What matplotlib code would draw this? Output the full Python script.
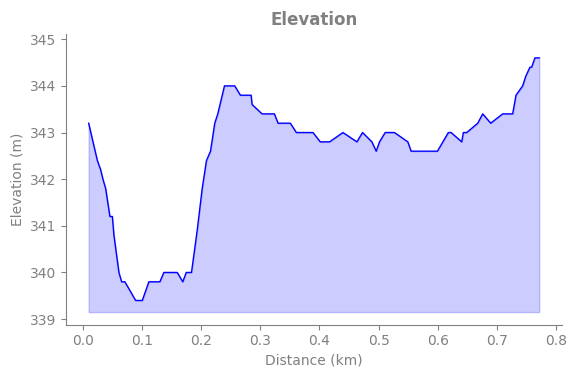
import matplotlib
matplotlib.use('Agg')
import matplotlib.pyplot as plt

# Data
distance_km = [0.0101, 0.0174, 0.0248, 0.0304, 0.0342, 0.0388, 0.0460, 0.0501, 0.0528,
               0.0612, 0.0658, 0.0713, 0.0894, 0.1007, 0.1118, 0.1304, 0.1371, 0.1597,
               0.1691, 0.1749, 0.1838, 0.1934, 0.2019, 0.2091, 0.2159, 0.2231, 0.2282,
               0.2395, 0.2568, 0.2664, 0.2845, 0.2862, 0.3030, 0.3238, 0.3300, 0.3508,
               0.3609, 0.3890, 0.4013, 0.4170, 0.4396, 0.4632, 0.4727, 0.4885, 0.4958,
               0.5014, 0.5110, 0.5266, 0.5435, 0.5492, 0.5548, 0.5992, 0.6177, 0.6223,
               0.6403, 0.6430, 0.6487, 0.6673, 0.6757, 0.6892, 0.7094, 0.7263, 0.7319,
               0.7432, 0.7482, 0.7555, 0.7583, 0.7639, 0.7712]
elevation_m = [343.2, 342.8, 342.4, 342.2, 342.0, 341.8, 341.2, 341.2, 340.8,
               340.0, 339.8, 339.8, 339.4, 339.4, 339.8, 339.8, 340.0, 340.0,
               339.8, 340.0, 340.0, 340.9, 341.8, 342.4, 342.6, 343.2, 343.4,
               344.0, 344.0, 343.8, 343.8, 343.6, 343.4, 343.4, 343.2, 343.2,
               343.0, 343.0, 342.8, 342.8, 343.0, 342.8, 343.0, 342.8, 342.6,
               342.8, 343.0, 343.0, 342.85, 342.8, 342.6, 342.6, 343.0, 343.0,
               342.8, 343.0, 343.0, 343.2, 343.4, 343.2, 343.4, 343.4, 343.8,
               344.0, 344.2, 344.4, 344.4, 344.6, 344.6]

baseline = min(elevation_m) - 0.25
grey = '#808080'

fig = plt.figure(figsize=(5.75, 3.78), dpi=100)
ax = fig.add_axes([0.115, 0.141, 0.862, 0.77])

ax.fill_between(distance_km, elevation_m, baseline, color='blue', alpha=0.2)
ax.plot(distance_km, elevation_m, color='blue', lw=1)

ax.set_ylim(338.88, 345.12)
ax.set_title('Elevation', color=grey, fontsize=12, fontweight='bold', pad=6)
ax.set_xlabel('Distance (km)', color=grey)
ax.set_ylabel('Elevation (m)', color=grey)

for side in ['top', 'right']:
    ax.spines[side].set_visible(False)
for side in ['left', 'bottom']:
    ax.spines[side].set_color(grey)
ax.tick_params(colors=grey, labelcolor=grey)

plt.savefig('out.png')
